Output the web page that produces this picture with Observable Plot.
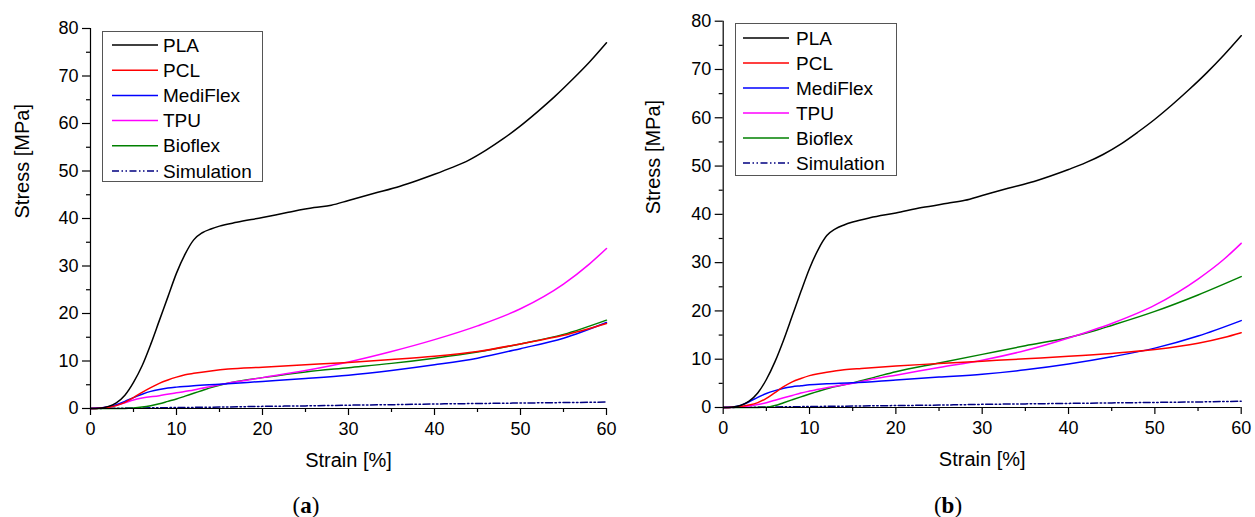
<!DOCTYPE html>
<html><head><meta charset="utf-8">
<script src="https://cdn.jsdelivr.net/npm/d3@7"></script>
<script src="https://cdn.jsdelivr.net/npm/@observablehq/plot@0.6"></script>
<style>
body{margin:0;background:#fff;}
#wrap{position:relative;width:1255px;height:517px;overflow:hidden;font-family:"Liberation Sans",Arial,sans-serif;background:#fff;}
.panel{position:absolute;top:0;}
.legend{position:absolute;overflow:visible;}
.cap{position:absolute;font-family:"Liberation Serif","Times New Roman",serif;font-size:23px;transform:translate(-50%,-50%);white-space:nowrap;}
</style></head><body><div id="wrap"></div>
<script>
// ---- Data ----
const materials = ["PLA","PCL","MediFlex","TPU","Bioflex","Simulation"];
const xTicks = [0,10,20,30,40,50,60];
const yTicks = [0,10,20,30,40,50,60,70,80];

// Panel (a)
const a_PLA_x = [0,1,2,3,4,5,6,7,8,9,10,11,12,13,14,15,17,20,23,26,28,30,33,36,38,40,42,44,46,48,50,52,54,56,58,60];
const a_PLA_y = [0,0.05,0.4,1.2,2.8,5.5,9,13.5,18.5,23.5,28.5,32.5,35.5,37,37.8,38.4,39.2,40.2,41.3,42.3,42.8,43.8,45.3,46.8,48,49.3,50.7,52.3,54.4,56.8,59.5,62.5,65.7,69.2,72.9,77];
const a_PCL_x = [0,1,2,3,4,5,6,7,8,9,10,11,12,14,16,20,25,30,35,40,45,50,55,60];
const a_PCL_y = [0,0.05,0.2,0.6,1.3,2.3,3.4,4.4,5.3,6.0,6.6,7.1,7.4,7.9,8.3,8.7,9.2,9.7,10.3,11.0,12.0,13.6,15.4,17.9];
const a_Medi_x = [0,1,2,3,4,5,6,7,8,9,10,12,15,20,25,30,35,40,45,50,55,60];
const a_Medi_y = [0,0.1,0.3,0.8,1.5,2.3,3.0,3.6,4.0,4.3,4.5,4.8,5.1,5.7,6.3,7.0,8.0,9.2,10.6,12.6,14.8,18.1];
const a_TPU_x = [0,1,2,3,4,5,6,8,10,12,15,18,20,25,30,35,40,45,50,55,58,60];
const a_TPU_y = [0,0.1,0.3,0.7,1.2,1.8,2.2,2.7,3.3,3.9,5.0,5.9,6.5,8.0,9.8,12.0,14.5,17.4,21.0,26.2,30.4,33.7];
const a_Bio_x = [0,4,5,6,7,8,9,10,11,12,13,14,15,17,20,25,30,35,40,45,50,55,60];
const a_Bio_y = [0,0,0.1,0.3,0.6,1.0,1.5,2.0,2.6,3.2,3.8,4.4,4.9,5.7,6.5,7.7,8.6,9.5,10.6,11.9,13.6,15.6,18.6];
const a_Sim_x = [0,5,10,15,20,25,30,35,40,45,50,55,60];
const a_Sim_y = [0,0.1,0.2,0.3,0.45,0.55,0.7,0.8,0.95,1.05,1.15,1.25,1.35];

// Panel (b)
const b_PLA_x = [0,1,2,3,4,5,6,7,8,9,10,11,12,13,14,15,17,20,23,26,28,30,33,36,38,40,42,44,46,48,50,52,54,56,58,60];
const b_PLA_y = [0,0.05,0.4,1.3,3.0,5.8,9.5,14,19,24,28.8,32.7,35.6,37,37.8,38.4,39.3,40.3,41.4,42.3,42.9,43.9,45.4,46.8,48,49.3,50.7,52.4,54.5,57,59.7,62.7,65.9,69.3,73,77];
const b_PCL_x = [0,1,2,3,4,5,6,7,8,9,10,11,12,14,16,20,25,30,35,40,45,50,55,58,60];
const b_PCL_y = [0,0.05,0.2,0.5,1.0,1.9,3.1,4.3,5.3,6.0,6.6,7.0,7.3,7.8,8.1,8.6,9.1,9.6,10.1,10.6,11.2,12.0,13.3,14.5,15.5];
const b_Medi_x = [0,1,2,3,4,5,6,7,8,9,10,12,15,20,25,30,35,40,45,50,55,60];
const b_Medi_y = [0,0.1,0.4,1.2,2.1,2.9,3.5,4.0,4.3,4.5,4.7,4.9,5.1,5.7,6.3,6.9,7.8,9.0,10.5,12.3,14.8,18.0];
const b_TPU_x = [0,2,3,4,5,6,7,8,9,10,12,15,18,20,25,30,35,40,45,50,55,58,60];
const b_TPU_y = [0,0.1,0.3,0.6,1.0,1.5,2.0,2.5,3.0,3.4,4.1,5.0,6.1,6.7,8.3,9.8,11.8,14.4,17.4,21.2,26.6,30.7,34.0];
const b_Bio_x = [0,4,5,6,7,8,9,10,12,15,18,20,25,30,35,40,43,45,50,55,60];
const b_Bio_y = [0,0,0.05,0.4,1.0,1.6,2.2,2.8,3.9,5.1,6.5,7.4,9.2,11.0,12.8,14.5,15.9,17.0,19.9,23.3,27.1];
const b_Sim_x = [0,5,10,15,20,25,30,35,40,45,50,55,60];
const b_Sim_y = [0,0.1,0.2,0.3,0.4,0.5,0.65,0.75,0.85,0.95,1.05,1.15,1.3];

// ---- Styles ----
const colors = {PLA:"#000000", PCL:"#ff0000", MediFlex:"#0000ff", TPU:"#ff00ff", Bioflex:"#008000", Simulation:"#000080"};
const dashes = {Simulation:"7,2.5,1.5,2.5,1.5,2.5"};

const pts = (xs, ys) => xs.map((x, i) => ({x, y: ys[i]}));
const seriesA = {PLA:pts(a_PLA_x,a_PLA_y), PCL:pts(a_PCL_x,a_PCL_y), MediFlex:pts(a_Medi_x,a_Medi_y), TPU:pts(a_TPU_x,a_TPU_y), Bioflex:pts(a_Bio_x,a_Bio_y), Simulation:pts(a_Sim_x,a_Sim_y)};
const seriesB = {PLA:pts(b_PLA_x,b_PLA_y), PCL:pts(b_PCL_x,b_PCL_y), MediFlex:pts(b_Medi_x,b_Medi_y), TPU:pts(b_TPU_x,b_TPU_y), Bioflex:pts(b_Bio_x,b_Bio_y), Simulation:pts(b_Sim_x,b_Sim_y)};

const wrap = document.getElementById("wrap");

function drawPanel(series, cfg) {
  const minorX = xTicks.slice(0,-1).map(v => v + 5);
  const minorY = yTicks.slice(0,-1).map(v => v + 5);
  const marks = [];
  for (const m of materials.slice().reverse()) {
    marks.push(Plot.line(series[m], {x:"x", y:"y", stroke: colors[m], strokeWidth: 1.5,
      strokeDasharray: dashes[m], curve: "monotone-x"}));
  }
  marks.push(
    Plot.ruleY([0], {stroke:"black", strokeWidth:1.2}),
    Plot.ruleX([0], {stroke:"black", strokeWidth:1.2}),
    Plot.axisY(yTicks, {tickSize:8, tickPadding:4, fontSize:18, label:null, strokeWidth:1.2}),
    Plot.axisY(minorY, {tickSize:4, tickFormat:() => "", label:null, strokeWidth:1.2}),
    Plot.axisX(xTicks, {tickSize:7, tickPadding:7, fontSize:18, label:null, strokeWidth:1.2}),
    Plot.axisX(minorX, {tickSize:4, tickFormat:() => "", label:null, strokeWidth:1.2}),
    Plot.text(["Strain [%]"], {frameAnchor:"bottom", dy:58, fontSize:20}),
    Plot.text(["Stress [MPa]"], {frameAnchor:"left", dx:cfg.ylabDx, rotate:-90, fontSize:20})
  );
  const svg = Plot.plot({
    width: cfg.width, height: 517,
    marginLeft: cfg.ml, marginRight: cfg.mr, marginTop: cfg.mt, marginBottom: 517 - cfg.y0,
    x: {domain:[0,60], label:null},
    y: {domain:[0,80], label:null},
    style: {fontFamily:'"Liberation Sans", Arial, sans-serif', color:"black", background:"transparent", overflow:"visible"},
    marks
  });
  const div = document.createElement("div");
  div.className = "panel";
  div.style.left = cfg.left + "px";
  div.appendChild(svg);
  wrap.appendChild(div);

  // legend
  const lg = d3.select(wrap).append("svg").attr("class","legend")
    .style("left", cfg.lg.x + "px").style("top", cfg.lg.y + "px")
    .attr("width", cfg.lg.w).attr("height", cfg.lg.h);
  lg.append("rect").attr("x",0.5).attr("y",0.5).attr("width",cfg.lg.w-1).attr("height",cfg.lg.h-1)
    .attr("fill","white").attr("stroke","#555").attr("stroke-width",1);
  materials.forEach((m, i) => {
    const cy = cfg.lg.first + i * cfg.lg.step;
    lg.append("line").attr("x1", cfg.lg.lx).attr("x2", cfg.lg.lx + 46).attr("y1", cy).attr("y2", cy)
      .attr("stroke", colors[m]).attr("stroke-width", 1.5).attr("stroke-dasharray", dashes[m] || null);
    lg.append("text").attr("x", cfg.lg.tx).attr("y", cy).attr("dy","0.35em")
      .attr("font-size", 19).attr("font-family",'"Liberation Sans", Arial, sans-serif').attr("fill","black").text(m);
  });

  const cap = document.createElement("div");
  cap.className = "cap";
  cap.style.left = cfg.cap.x + "px";
  cap.style.top = cfg.cap.y + "px";
  cap.innerHTML = "(<b>" + cfg.cap.t + "</b>)";
  wrap.appendChild(cap);
}

drawPanel(seriesA, {left:0, width:627, ml:90, mr:21, mt:28, y0:408, ylabDx:-68,
  lg:{x:102, y:31, w:161, h:151, first:14, step:25.2, lx:10, tx:61},
  cap:{x:306, y:506, t:"a"}});
drawPanel(seriesB, {left:627, width:628, ml:95.7, mr:14.3, mt:20.7, y0:407, ylabDx:-70,
  lg:{x:735, y:23, w:162, h:153, first:15, step:25, lx:8, tx:61},
  cap:{x:948, y:506, t:"b"}});
</script>
</body></html>
